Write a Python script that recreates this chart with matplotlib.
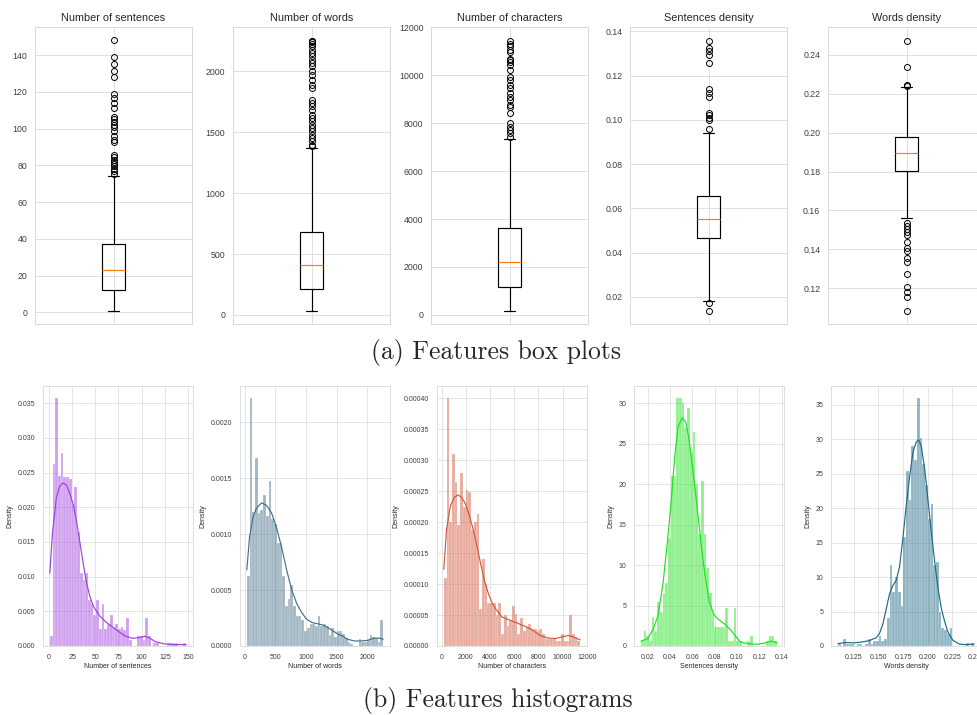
import numpy as np
import matplotlib.pyplot as plt
import seaborn as sns

# ---- box plot summaries ----
box_titles = ["Number of sentences", "Number of words", "Number of characters",
              "Sentences density", "Words density"]
box_q1 = [12, 216, 1150, 0.0468, 0.1801]
box_med = [23, 413, 2190, 0.0550, 0.1893]
box_q3 = [37, 683, 3632, 0.0656, 0.1978]
box_lo = [1, 36, 183, 0.0179, 0.1564]
box_hi = [74, 1372, 7330, 0.0942, 0.2231]

fliers_sent = [148, 139, 135, 131.6, 128.2, 119, 116.7, 114, 111, 106.4, 105, 103.6, 102.2,
               100.7, 99, 95.8, 94, 92.5, 85.5, 84.4, 83, 81.8, 80.7, 79.5, 78, 76.7, 75.5]
fliers_words = [2254, 2246, 2238, 2227, 2205, 2178, 2150, 2123, 2096, 2068, 2041, 2000, 1973,
                1932, 1891, 1863, 1768, 1740, 1713, 1686, 1645, 1617, 1590, 1563, 1536, 1508,
                1481, 1454, 1426, 1399, 1385]
fliers_chars = [11450, 11320, 11224, 11043, 10974, 10697, 10627, 10558, 10420, 10212, 9935,
                9796, 9588, 9450, 9242, 9103, 8965, 8757, 8688, 8411, 7995, 7857, 7718, 7580, 7441]
fliers_sdens = [0.0170, 0.0138, 0.1359, 0.1326, 0.1311, 0.1292, 0.1258, 0.1138, 0.1123, 0.1103,
                0.1032, 0.1021, 0.1010, 0.1000, 0.0957]
fliers_wdens = [0.2472, 0.2335, 0.2246, 0.2241, 0.1535, 0.1521, 0.1507, 0.1492, 0.1473, 0.1439,
                0.1410, 0.1393, 0.1358, 0.1337, 0.1272, 0.1209, 0.1180, 0.1154, 0.1087]
box_fliers = [fliers_sent, fliers_words, fliers_chars, fliers_sdens, fliers_wdens]

# ---- histograms (50 bins each, density scale) ----
hist_labels = box_titles
hist_ranges = [(1, 148), (36, 2260), (183, 11450), (0.0139, 0.1359), (0.1087, 0.2472)]
hist_colors = ["#A040E0", "#456F88", "#D2573A", "#1DE21D", "#1F6A87"]

dens_sent = [0.0014, 0.0263, 0.0357, 0.0245, 0.0278, 0.0243, 0.0243, 0.0241, 0.0205, 0.0229,
             0.0165, 0.0105, 0.0095, 0.0105, 0.0066, 0.0060, 0.0045, 0.0066, 0.0025, 0.0061,
             0.0025, 0.0031, 0.0044, 0.0027, 0.0031, 0.0025, 0.0027, 0.0023, 0.0040, 0.0008,
             0.0, 0.0, 0.0014, 0.0014, 0.0008, 0.0040, 0.0014, 0.0, 0.0004, 0.0004,
             0.0, 0.0, 0.0, 0.0004, 0.0004, 0.0004, 0.0004, 0.0, 0.0, 0.0004]
dens_words = [0.000627, 0.002215, 0.0012, 0.001684, 0.00119, 0.00122, 0.00135, 0.00116, 0.00148, 0.00114,
              0.00109, 0.00092, 0.00092, 0.00063, 0.00036, 0.00042, 0.00055, 0.00036, 0.00027, 0.00027,
              0.00023, 0.00013, 0.00016, 0.0002, 0.0002, 0.00018, 0.00027, 0.00018, 0.0002, 0.00018,
              0.0001, 0.00016, 0.00008, 0.00013, 0.00013, 0.00011, 0.00007, 0.00004, 0.00002, 0.0,
              0.0, 0.00006, 0.00004, 0.00004, 0.00005, 0.0001, 0.00008, 0.00007, 0.00004, 0.00023]
dens_chars = [0.00011, 0.0004, 0.0002, 0.00031, 0.000265, 0.000195, 0.00028, 0.000225, 0.000252, 0.000249,
              0.000188, 0.0002, 0.000214, 0.00006, 0.00014, 0.0001, 0.00007, 0.00007, 0.00007, 0.00005,
              0.00007, 0.00002, 0.00005, 0.000032, 0.00004, 0.000065, 0.000052, 0.00002, 0.000045, 0.000025,
              0.00003, 0.000035, 0.000028, 0.000028, 0.000024, 0.000028, 0.00002, 0.000012, 0.000012, 0.000012,
              0.000012, 0.000008, 0.000008, 0.00002, 0.000008, 0.000008, 0.00005, 0.00002, 0.000015, 0.000008]
dens_sdens = [0.6, 1.8, 1.2, 0.6, 3.6, 1.8, 5.4, 4.2, 6.6, 7.8,
              13.3, 21.0, 21.0, 30.6, 30.6, 30.0, 27.0, 29.4, 24.0, 26.4,
              20.0, 13.9, 20.4, 13.9, 9.6, 6.5, 4.2, 2.4, 2.4, 2.4,
              2.4, 4.7, 0.6, 0.6, 4.7, 0.6, 0.6, 0.0, 0.0, 0.6,
              1.2, 0.0, 0.0, 0.0, 0.0, 0.0, 0.6, 1.2, 1.2, 0.6]
dens_wdens = [0.35, 0.0, 1.06, 0.35, 0.35, 0.35, 0.0, 0.35, 0.35, 0.0,
              0.35, 1.06, 0.35, 0.7, 0.7, 1.45, 0.7, 1.06, 4.0, 11.7,
              7.9, 10.0, 7.9, 5.8, 15.8, 25.3, 21.1, 29.0, 26.9, 35.9,
              30.1, 26.4, 23.3, 18.4, 20.6, 11.7, 12.2, 4.9, 2.6, 2.3,
              1.8, 2.6, 0.0, 0.0, 0.0, 0.0, 0.0, 0.4, 0.0, 0.4]
hist_dens = [dens_sent, dens_words, dens_chars, dens_sdens, dens_wdens]

# KDE curves, read point by point
kde_sent_x = [1, 4, 8, 11.5, 15, 19, 22, 26, 29.5, 33, 37, 40, 44, 48, 55, 62, 69, 76, 83, 90,
              97, 103, 108, 115, 125, 135, 148]
kde_sent_y = [0.0105, 0.0165, 0.0213, 0.0230, 0.0235, 0.0232, 0.0222, 0.0205, 0.0182, 0.0153,
              0.0119, 0.0095, 0.0072, 0.0057, 0.0043, 0.0034, 0.0027, 0.0020, 0.0014, 0.0011,
              0.0012, 0.0014, 0.0012, 0.0006, 0.0003, 0.0002, 0.0002]
kde_words_x = [36, 80, 135, 190, 275, 355, 440, 520, 600, 690, 770, 850, 930, 1010, 1100, 1180,
               1260, 1340, 1430, 1510, 1590, 1680, 1790, 1900, 2000, 2110, 2200, 2260]
kde_words_y = [0.00068, 0.00097, 0.00115, 0.00123, 0.00128, 0.00126, 0.00119, 0.00106, 0.00089,
               0.00067, 0.0005, 0.00038, 0.0003, 0.00024, 0.00021, 0.0002, 0.00019, 0.00017,
               0.00014, 0.00011, 0.00009, 0.00006, 0.000045, 0.000045, 0.00005, 0.00007, 0.00007,
               0.00006]
kde_chars_x = [183, 409, 724, 1039, 1354, 1669, 1984, 2299, 2614, 2929, 3244, 3559, 3874, 4189,
               4504, 4976, 5606, 6236, 6866, 7496, 8126, 8756, 9386, 10016, 10488, 10961, 11450]
kde_chars_y = [0.000124, 0.000188, 0.000226, 0.00024, 0.000244, 0.00024, 0.000229, 0.00021,
               0.000188, 0.000161, 0.000131, 0.000104, 0.000084, 0.000069, 0.000059, 0.000047,
               0.000042, 0.000037, 0.000032, 0.000026, 0.000017, 0.000013, 0.000012, 0.000015,
               0.000017, 0.000014, 0.00001]
kde_sdens_x = [0.0139, 0.020, 0.025, 0.0294, 0.0339, 0.0383, 0.0413, 0.0442, 0.0472, 0.0510,
               0.0540, 0.0569, 0.0599, 0.0634, 0.0664, 0.0693, 0.0723, 0.0752, 0.0796, 0.0841,
               0.0900, 0.0959, 0.1028, 0.1096, 0.1180, 0.1248, 0.1299, 0.1359]
kde_sdens_y = [0.6, 0.9, 2.1, 3.8, 7.9, 13.7, 18.2, 23.4, 27.1, 28.2, 27.7, 25.7, 22.4, 18.2,
               14.5, 10.8, 7.9, 5.4, 3.8, 3.2, 2.6, 1.7, 0.5, 0.3, 0.2, 0.37, 0.6, 0.4]
kde_wdens_x = [0.1087, 0.117, 0.1257, 0.1342, 0.141, 0.1477, 0.151, 0.1545, 0.1579, 0.1613,
               0.1647, 0.168, 0.1714, 0.1748, 0.1782, 0.1816, 0.185, 0.1884, 0.1908, 0.1935,
               0.1969, 0.2003, 0.2037, 0.2071, 0.2105, 0.2139, 0.2173, 0.2206, 0.2257, 0.2325,
               0.2392, 0.2472]
kde_wdens_y = [0.35, 0.5, 0.45, 0.6, 0.8, 1.2, 1.8, 3.2, 5.4, 7.6, 8.8, 9.5, 11.5, 15.6, 20.4,
               24.5, 28.1, 29.6, 29.9, 28.9, 25.7, 21.1, 16.5, 12.2, 8.3, 5.4, 3.5, 2.0, 0.8,
               0.25, 0.2, 0.3]
kde_x = [kde_sent_x, kde_words_x, kde_chars_x, kde_sdens_x, kde_wdens_x]
kde_y = [kde_sent_y, kde_words_y, kde_chars_y, kde_sdens_y, kde_wdens_y]

sns.set_style("whitegrid")
plt.rcParams['font.family'] = ['Liberation Sans', 'DejaVu Sans']

W, H = 977, 715
fig = plt.figure(figsize=(W / 100, H / 100), dpi=100)

# top row: box plots
top_left = [35, 233, 431, 630, 828]
for i, x0 in enumerate(top_left):
    ax = fig.add_axes([x0 / W, 1 - 324 / H, 157 / W, 297 / H])
    stats = [dict(med=box_med[i], q1=box_q1[i], q3=box_q3[i],
                  whislo=box_lo[i], whishi=box_hi[i], fliers=box_fliers[i])]
    ax.bxp(stats, positions=[1], widths=[0.15],
           boxprops=dict(color="black", linewidth=0.85),
           whiskerprops=dict(color="black", linewidth=0.85),
           capprops=dict(color="black", linewidth=0.85),
           medianprops=dict(color="#ff7f0e", linewidth=0.85),
           flierprops=dict(marker="o", markerfacecolor="none", markeredgecolor="black",
                           markersize=4.3, markeredgewidth=0.7))
    ax.set_xlim(0.5, 1.5)
    ax.set_xticks([1])
    ax.set_xticklabels([""])
    ax.set_title(box_titles[i], fontsize=7.8, color="0.15", pad=4)
    ax.tick_params(axis="y", labelsize=6.3, pad=2, colors="0.25")
    ax.tick_params(axis="x", length=0)
    ax.grid(True, color="0.88", linewidth=0.7)
    for sp in ax.spines.values():
        sp.set_color("0.85")
        sp.set_linewidth(0.7)

fig.text(0.508, 1 - 353 / H, "(a) Features box plots", family="cmr10", fontsize=18.5,
         ha="center", va="center")

# bottom row: histograms + kde
bot_left = [43, 240, 437, 634, 831]
for i, x0 in enumerate(bot_left):
    ax = fig.add_axes([x0 / W, 1 - 646 / H, 150 / W, 260 / H])
    lo, hi = hist_ranges[i]
    edges = np.linspace(lo, hi, len(hist_dens[i]) + 1)
    ax.bar(edges[:-1], hist_dens[i], width=np.diff(edges), align="edge",
           color=hist_colors[i], alpha=0.5, edgecolor="white", linewidth=0.3)
    ax.plot(kde_x[i], kde_y[i], color=hist_colors[i], linewidth=0.85)
    ax.set_xlabel(hist_labels[i], fontsize=5, labelpad=2, color="0.15")
    ax.set_ylabel("Density", fontsize=5, labelpad=3, color="0.15")
    ax.tick_params(labelsize=5, pad=2, colors="0.25")
    ax.grid(True, color="0.88", linewidth=0.6)
    for sp in ax.spines.values():
        sp.set_color("0.85")
        sp.set_linewidth(0.6)

fig.text(0.51, 1 - 700 / H, "(b) Features histograms", family="cmr10", fontsize=18.5,
         ha="center", va="center")

fig.savefig("out.png", dpi=100)
